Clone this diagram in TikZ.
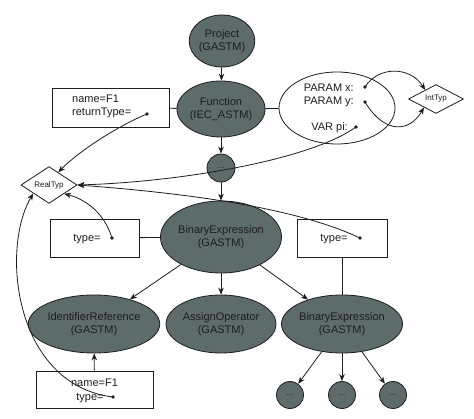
\documentclass[tikz,border=0pt]{standalone}
\usepackage{fontspec}
\setmainfont{Liberation Sans}
\usetikzlibrary{arrows.meta,shapes.geometric}
\definecolor{nodefill}{HTML}{5E6B6B}
\definecolor{inkc}{HTML}{1E1E1E}
\tikzset{
  gnode/.style={ellipse,draw=inkc,fill=nodefill,line width=0.8pt,inner sep=0pt,align=center,text=inkc,font=\fontsize{11}{13}\selectfont},
  dotnode/.style={circle,draw=inkc,fill=nodefill,line width=0.8pt,inner sep=0pt,minimum size=27pt,text=inkc,font=\fontsize{8}{9}\selectfont},
  attrbox/.style={rectangle,draw=inkc,line width=0.8pt,inner sep=0pt,fill=white},
  typdia/.style={diamond,draw=inkc,line width=0.8pt,inner sep=0pt,fill=white,text=inkc,font=\fontsize{8}{9}\selectfont},
  lbl/.style={inner sep=0pt,text=inkc,font=\fontsize{11}{13}\selectfont},
  pin/.style={circle,fill=inkc,inner sep=0pt,minimum size=3.6pt},
  conn/.style={draw=inkc,line width=0.8pt},
  arr/.style={conn,-{Stealth[length=7pt,width=5.5pt]}},
}
\begin{document}
\begin{tikzpicture}[x=1pt,y=-1pt]
\useasboundingbox (0,0) rectangle (474,419);
\fill[white] (0,0) rectangle (474,419);

% main nodes
\node[gnode,minimum width=55pt,minimum height=52pt] (proj) at (222,41) {Project\\(GASTM)};
\node[gnode,minimum width=62pt,minimum height=56pt] (func) at (221,109) {Function\\(IEC\_ASTM)};
\node[dotnode,minimum size=28pt] (dots0) at (221,168) {\raisebox{-2pt}{...}};
\node[gnode,minimum width=108pt,minimum height=72pt] (bin) at (221,237) {BinaryExpression\\(GASTM)};
\node[gnode,minimum width=116pt,minimum height=58pt] (idref) at (94,324) {IdentifierReference\\(GASTM)};
\node[gnode,minimum width=110pt,minimum height=58pt] (assign) at (221,324) {AssignOperator\\(GASTM)};
\node[gnode,minimum width=104pt,minimum height=58pt] (bin2) at (342,324) {BinaryExpression\\(GASTM)};
\node[dotnode] (d1) at (290,395) {\raisebox{-2pt}{...}};
\node[dotnode] (d2) at (342,395) {\raisebox{-2pt}{...}};
\node[dotnode] (d3) at (393,395) {\raisebox{-2pt}{...}};

% attribute boxes
\node[attrbox,minimum width=117pt,minimum height=39pt] (box1) at (110.5,107.5) {};
\node[ellipse,draw=inkc,line width=0.8pt,fill=white,minimum width=116pt,minimum height=72pt,inner sep=0pt] (params) at (337,108) {};
\node[attrbox,minimum width=89pt,minimum height=38pt] (tbox1) at (94.5,238) {};
\node[attrbox,minimum width=90pt,minimum height=38pt] (tbox2) at (342,238) {};
\node[attrbox,minimum width=117pt,minimum height=37pt] (bbox) at (94.5,389.5) {};

% type diamonds
\node[typdia,minimum width=55pt,minimum height=26pt] (inttyp) at (436,99) {IntTyp};
\node[typdia,minimum width=56pt,minimum height=28pt] (realtyp) at (49,185) {RealTyp};

% texts
\node[lbl,anchor=west] (t1) at (72,99) {name=F1};
\node[lbl,anchor=west] (t2) at (72,113) {returnType=};
\node[lbl,anchor=east] (t3) at (354,88) {PARAM x:};
\node[lbl,anchor=east] (t4) at (354,102) {PARAM y:};
\node[lbl,anchor=east] (t5) at (348,128) {VAR pi:};
\node[lbl] (t6) at (87,239) {type=};
\node[lbl] (t7) at (334,239) {type=};
\node[lbl] (t8) at (94.5,383) {name=F1};
\node[lbl] (t9) at (90,398) {type=};

% pins
\node[pin] (prt) at (147,114) {};
\node[pin] (ppx) at (365,87) {};
\node[pin] (ppy) at (365,102) {};
\node[pin] (pvp) at (356,127) {};
\node[pin] (ptd1) at (112,238) {};
\node[pin] (ptd2) at (360,238) {};
\node[pin] (pbd) at (113,397) {};

% tree edges
\draw[arr] (proj) -- (func);
\draw[arr] (func) -- (dots0);
\draw[arr] (dots0) -- (bin);
\draw[arr] (bin) -- (idref);
\draw[arr] (bin) -- (assign);
\draw[arr] (bin) -- (bin2);
\draw[arr] (bin2) -- (d1);
\draw[arr] (bin2) -- (d2);
\draw[arr] (bin2) -- (d3);
\draw[arr] (bbox) -- (idref);

% attachments
\draw[conn] (box1) -- (func);
\draw[conn] (func) -- (params);
\draw[conn] (tbox1) -- (bin);
\draw[conn] (tbox2.south) -- (bin2.north);

% type references
\draw[arr] (ppx.center) .. controls (378,66) and (410,66) .. (inttyp.140);
\draw[arr] (ppy.center) .. controls (385,135) and (410,132) .. (inttyp.215);
\draw[arr] (prt.center) .. controls (120,125) and (80,150) .. (realtyp.54);
\draw[arr] (pvp.center) .. controls (310,160) and (180,182) .. (realtyp.east);
\draw[arr] (ptd2.center) .. controls (290,205) and (170,192) .. (realtyp.east);
\draw[arr] (ptd1.center) .. controls (105,215) and (88,200) .. (realtyp.-30);
\draw[arr] (pbd.center) .. controls (15,385) and (0,250) .. (realtyp.208);
\end{tikzpicture}
\end{document}
